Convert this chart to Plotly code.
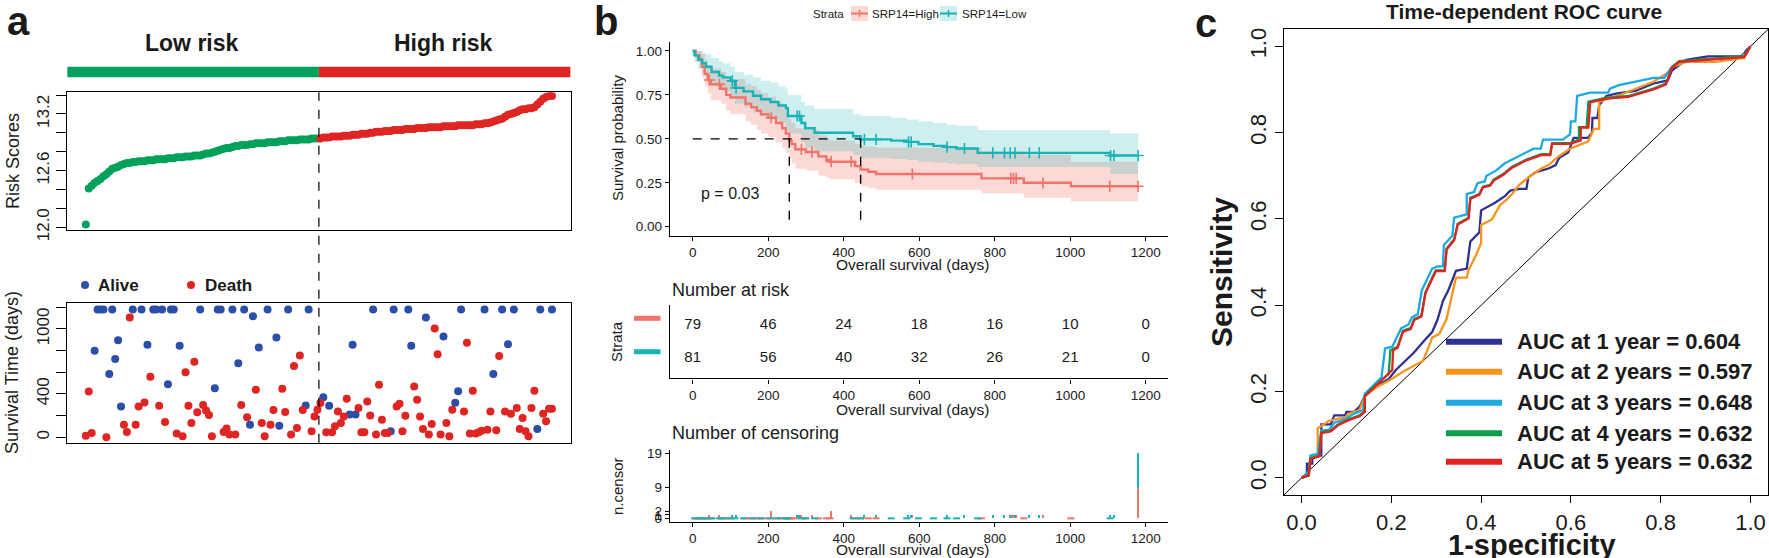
import plotly.graph_objects as go

W, H = 1769, 558
def px(x): return x / W
def py(y): return 1 - y / H

FONT = "Liberation Sans, Arial, sans-serif"
BLACK = "#1a1a1a"

# ---------------- Panel a data ----------------
risk_scores = [
    12.03, 12.41, 12.44, 12.47, 12.49, 12.51, 12.54, 12.56, 12.59, 12.62,
    12.63, 12.64, 12.66, 12.67, 12.68, 12.68, 12.69, 12.69, 12.70, 12.70,
    12.70, 12.71, 12.71, 12.71, 12.72, 12.72, 12.72, 12.72, 12.73, 12.73,
    12.73, 12.74, 12.74, 12.74, 12.75, 12.75, 12.75, 12.76, 12.76, 12.76,
    12.77, 12.78, 12.78, 12.79, 12.80, 12.81, 12.82, 12.83, 12.84, 12.84,
    12.85, 12.86, 12.86, 12.87, 12.87, 12.87, 12.88, 12.88, 12.89, 12.89,
    12.89, 12.89, 12.90, 12.90, 12.90, 12.90, 12.91, 12.91, 12.91, 12.92,
    12.92, 12.92, 12.92, 12.93, 12.93, 12.93, 12.93, 12.94, 12.94, 12.94,
    12.94, 12.95, 12.95, 12.95, 12.96, 12.96, 12.96, 12.96, 12.97, 12.97,
    12.97, 12.98, 12.98, 12.98, 12.99, 12.99, 12.99, 13.00, 13.00, 13.01,
    13.01, 13.01, 13.02, 13.02, 13.02, 13.03, 13.03, 13.03, 13.03, 13.04,
    13.04, 13.04, 13.04, 13.05, 13.05, 13.05, 13.05, 13.06, 13.06, 13.06,
    13.06, 13.06, 13.07, 13.07, 13.07, 13.07, 13.07, 13.08, 13.08, 13.08,
    13.08, 13.08, 13.08, 13.09, 13.09, 13.09, 13.10, 13.10, 13.11, 13.12,
    13.13, 13.14, 13.15, 13.17, 13.19, 13.20, 13.21, 13.22, 13.24, 13.25,
    13.25, 13.26, 13.26, 13.27, 13.30, 13.33, 13.36, 13.38, 13.39, 13.39,
]
n_low = 80  # patients ranked 1..80 are low risk

alive_rank = [4, 5, 6, 7, 9, 10, 11, 12, 13, 17, 20, 22, 24, 25, 27, 29, 30, 31, 33, 40,
              45, 46, 47, 51, 53, 55, 57, 58, 60, 63, 66, 67, 70, 76, 77,
              82, 84, 91, 92, 93, 99, 105, 106, 111, 112, 117, 123, 127, 128, 129,
              137, 140, 143, 145, 147, 155, 156, 160]
alive_days = [800, 1180, 1180, 1180, 585, 1180, 723, 897, 285, 1180, 1180, 854, 1180, 1180, 1180, 490, 1180, 1180, 845, 1180,
              453, 1180, 1180, 1180, 683, 1180, 116, 1118, 830, 1180, 922, 107, 1180, 294, 1180,
              370, 291, 211, 854, 211, 1180, 55, 1180, 1180, 845, 1106, 931, 318, 426, 1180,
              1180, 585, 1180, 860, 1180, 77, 1180, 1180]
death_rank = [1, 2, 3, 8, 14, 15, 16, 18, 19, 21, 23, 26, 28, 32, 34, 35, 36, 37, 38, 39,
              41, 42, 43, 44, 48, 49, 50, 52, 54, 56, 59, 61, 62, 64, 65, 68, 69, 71, 72, 73,
              74, 75, 78, 79, 80,
              81, 83, 85, 86, 87, 88, 89, 90, 94, 95, 96, 97, 98, 100, 101, 102, 103, 104, 107, 108,
              109, 110, 113, 114, 115, 116, 118, 119, 120, 121, 122, 124, 125, 126, 130, 131, 132, 133, 134, 135,
              136, 138, 139, 141, 142, 144, 146, 148, 149, 150, 151, 152, 153, 154, 157, 158, 159, 160]
death_days = [15, 423, 40, 0, 116, 49, 1106, 116, 285, 322, 560, 291, 141, 34, 9, 600, 291, 132, 698, 230,
              297, 248, 205, 9, 49, 80, 25, 25, 297, 184, 438, 132, 9, 116, 251, 447, 233, 25, 659, 86,
              754, 251, 55, 193, 254,
              316, 46, 46, 101, 239, 132, 193, 355, 270, 46, 46, 331, 202, 25, 484, 162, 40, 40, 285, 309,
              55, 199, 469, 346, 193, 77, 25, 123, 1005, 766, 25, 132, 9, 254, 239, 873, 34, 429, 34, 46,
              61, 70, 239, 64, 751, 239, 217, 270, 77, 178, 55, 9, 270, 429, 217, 147, 263, 263]

risk_ticks = [12.0, 12.2, 12.4, 12.6, 12.8, 13.0, 13.2, 13.4]
risk_ticktext = ["12.0", "", "", "12.6", "", "", "13.2", ""]
surv_ticks = [0, 200, 400, 600, 800, 1000, 1200]
surv_ticktext = ["0", "", "400", "", "", "1000", ""]

# ---------------- Panel b data ----------------
high_t = [0, 8, 18, 25, 32, 40, 48, 75, 89, 100, 140, 155, 170, 181, 200, 221, 237, 247, 256, 262,
          272, 300, 333, 354, 364, 430, 445, 465, 486, 765, 877, 1002]
high_s = [1.0, .975, .95, .91, .87, .835, .81, .785, .75, .735, .70, .68, .66, .64, .62, .59, .56, .53, .49, .47,
          .44, .425, .40, .38, .37, .345, .325, .313, .30, .275, .25, .23]
high_lo = [1.0, .94, .90, .85, .80, .76, .72, .70, .66, .64, .60, .58, .55, .53, .51, .48, .45, .42, .39, .36,
           .33, .32, .29, .28, .27, .25, .23, .22, .21, .19, .165, .145]
high_up = [1.0, 1.0, 1.0, .98, .95, .92, .90, .88, .85, .84, .81, .80, .78, .76, .74, .71, .68, .65, .61, .59,
           .56, .55, .52, .50, .49, .47, .46, .455, .45, .43, .41, .37]
low_t = [0, 5, 15, 25, 35, 50, 70, 80, 100, 112, 135, 160, 181, 206, 227, 247, 252, 288, 298, 323,
         425, 445, 526, 567, 598, 638, 674, 699, 755, 1106]
low_s = [1.0, .975, .95, .93, .91, .88, .86, .85, .83, .79, .77, .745, .725, .71, .69, .675, .63, .59, .56, .535,
         .515, .497, .49, .483, .47, .46, .453, .445, .42, .405]
low_lo = [1.0, .94, .90, .87, .85, .81, .78, .77, .74, .70, .68, .65, .63, .61, .59, .57, .53, .48, .45, .43,
          .41, .39, .385, .38, .37, .365, .36, .355, .34, .30]
low_up = [1.0, 1.0, 1.0, .99, .98, .96, .94, .93, .91, .88, .865, .85, .83, .82, .80, .79, .75, .71, .69, .67,
          .64, .63, .62, .61, .60, .59, .58, .575, .55, .53]

high_cens_t = [44, 71, 208, 288, 316, 367, 420, 582, 843, 850, 857, 928, 1105, 1180]
high_cens_n = [1, 1, 2, 1, 1, 2, 1, 1, 1, 1, 1, 1, 1, 9]
low_cens_t = [105, 115, 277, 283, 455, 486, 572, 579, 674, 720, 795, 826, 841, 854, 892, 918, 1107, 1116, 1180]
low_cens_n = [1, 1, 1, 1, 1, 1, 1, 1, 1, 1, 1, 1, 1, 1, 1, 1, 1, 1, 10]

risk_times = [0, 200, 400, 600, 800, 1000, 1200]
risk_high = [79, 46, 24, 18, 16, 10, 0]
risk_low = [81, 56, 40, 32, 26, 21, 0]
p_text = "p = 0.03"
km_ticks = [0, 200, 400, 600, 800, 1000, 1200]
surv_prob_ticks = [0, 0.25, 0.5, 0.75, 1.0]
surv_prob_text = ["0.00", "0.25", "0.50", "0.75", "1.00"]
ncensor_ticks = [0, 1, 2, 9, 19]

# ---------------- Panel c data ----------------
roc_fpr_1 = [0, .012, .012, .024, .024, .044, .044, .065, .073, .097, .1, .117, .13, .141, .162, .194, .21, .25, .275, .291,
             .303, .315, .327, .344, .368, .376, .396, .4, .43, .453, .465, .485, .501, .505, .521, .55, .566, .574, .594, .606,
             .638, .647, .648, .659, .663, .679, .703, .744, .784, .816, .825, .857, .905, .986, .99, 1]
roc_tpr_1 = [0, .01, .033, .033, .048, .052, .124, .124, .145, .145, .153, .153, .166, .19, .21, .229, .25, .29, .32, .338,
             .367, .41, .435, .48, .485, .548, .569, .62, .637, .653, .666, .67, .67, .696, .708, .717, .725, .742, .754, .788,
             .788, .8, .834, .834, .864, .885, .891, .897, .914, .921, .944, .969, .977, .977, .99, 1]
roc_fpr_2 = [0, .016, .02, .036, .036, .06, .077, .097, .105, .129, .141, .17, .194, .226, .27, .279, .291, .307, .323, .331,
             .344, .368, .372, .388, .4, .4, .424, .442, .457, .469, .485, .505, .534, .55, .574, .598, .618, .639, .651, .663,
             .663, .703, .784, .816, .825, .857, .922, .986, 1]
roc_tpr_2 = [0, .006, .046, .052, .115, .132, .136, .14, .149, .157, .19, .212, .225, .246, .271, .292, .325, .334, .368, .405,
             .464, .464, .481, .515, .544, .586, .599, .632, .645, .658, .679, .696, .717, .725, .746, .763, .771, .78, .809, .809,
             .872, .885, .918, .939, .952, .964, .964, .973, 1]
roc_fpr_3 = [0, .016, .02, .036, .044, .061, .073, .097, .117, .137, .141, .162, .178, .186, .202, .222, .238, .246, .259, .268,
             .279, .291, .303, .315, .317, .336, .34, .368, .368, .384, .392, .408, .412, .433, .453, .477, .501, .517, .533, .538,
             .582, .598, .6, .61, .614, .643, .683, .687, .707, .784, .808, .825, .841, .905, .986, 1]
roc_tpr_3 = [0, .014, .052, .056, .111, .111, .128, .136, .149, .157, .195, .216, .233, .3, .304, .347, .355, .372, .38, .435,
             .46, .485, .49, .49, .54, .561, .603, .611, .658, .662, .683, .687, .7, .712, .729, .742, .754, .763, .763, .784,
             .784, .796, .826, .826, .885, .893, .893, .902, .91, .927, .927, .952, .964, .969, .977, 1]
roc_fpr_4 = [0, .016, .02, .04, .044, .065, .081, .105, .129, .141, .141, .162, .194, .198, .214, .226, .243, .251, .267, .276,
             .291, .299, .319, .323, .34, .348, .372, .376, .396, .404, .42, .428, .449, .469, .501, .534, .554, .558, .598, .618,
             .618, .635, .639, .679, .728, .784, .812, .825, .841, .922, .986, 1]
roc_tpr_4 = [0, .006, .046, .052, .106, .11, .124, .136, .145, .155, .191, .212, .241, .296, .304, .341, .347, .368, .376, .43,
             .464, .481, .481, .531, .553, .589, .603, .649, .658, .675, .679, .691, .704, .721, .738, .75, .75, .776, .776, .784,
             .813, .813, .872, .881, .885, .902, .914, .952, .966, .973, .977, 1]
roc_fpr_5 = [0, .016, .02, .04, .044, .065, .081, .105, .129, .141, .141, .162, .19, .202, .204, .214, .226, .243, .251, .267,
             .276, .291, .299, .319, .323, .34, .348, .372, .376, .396, .404, .42, .428, .449, .469, .501, .534, .554, .558, .598,
             .622, .622, .639, .643, .679, .728, .784, .812, .825, .841, .922, .986, 1]
roc_tpr_5 = [0, .006, .044, .05, .104, .108, .122, .134, .143, .153, .189, .21, .24, .25, .296, .302, .339, .345, .366, .374,
             .428, .462, .479, .479, .529, .551, .587, .601, .647, .656, .673, .677, .689, .702, .719, .736, .748, .748, .774, .774,
             .782, .812, .812, .87, .879, .883, .9, .912, .95, .964, .97, .975, 1]
roc_labels = ["AUC at 1 year = 0.604", "AUC at 2 years = 0.597", "AUC at 3 years = 0.648",
              "AUC at 4 years = 0.632", "AUC at 5 years = 0.632"]
roc_ticks = [0, 0.2, 0.4, 0.6, 0.8, 1.0]
roc_ticktext = ["0.0", "0.2", "0.4", "0.6", "0.8", "1.0"]

# ---------------- colours ----------------
GREEN_A = "#00A15A"
RED_A = "#DF2522"
BLUE_A = "#2B4FA8"
KM_RED = "#F0746A"
KM_TEAL = "#18B3B6"
KM_RED_FILL = "rgba(245,120,105,0.28)"
KM_TEAL_FILL = "rgba(30,180,185,0.22)"
ROC_COLORS = ["#2E3192", "#F7941D", "#1CA9E1", "#0C9D4F", "#E42320"]

fig = go.Figure()

# ---- Panel a: risk scores ----
ranks = list(range(1, len(risk_scores) + 1))
fig.add_trace(go.Scatter(x=ranks[:n_low], y=risk_scores[:n_low], mode="markers",
                         marker=dict(color=GREEN_A, size=8), xaxis="x", yaxis="y", showlegend=False))
fig.add_trace(go.Scatter(x=ranks[n_low:], y=risk_scores[n_low:], mode="markers",
                         marker=dict(color=RED_A, size=8), xaxis="x", yaxis="y", showlegend=False))
# ---- Panel a: survival status ----
fig.add_trace(go.Scatter(x=alive_rank, y=alive_days, mode="markers",
                         marker=dict(color=BLUE_A, size=8), xaxis="x2", yaxis="y2", showlegend=False))
fig.add_trace(go.Scatter(x=death_rank, y=death_days, mode="markers",
                         marker=dict(color=RED_A, size=8), xaxis="x2", yaxis="y2", showlegend=False))

# ---- Panel b: KM ----
t_end = max(high_cens_t + low_cens_t)

def ext(ts, vals):
    return ts + [t_end], vals + [vals[-1]]

def surv_at(t, ts, ss):
    idx = max(i for i, tt in enumerate(ts) if tt <= t)
    return ss[idx]

for ts, lo, up, fillc in [(high_t, high_lo, high_up, KM_RED_FILL), (low_t, low_lo, low_up, KM_TEAL_FILL)]:
    xu, yu = ext(ts, up)
    xl, yl = ext(ts, lo)
    fig.add_trace(go.Scatter(x=xu, y=yu, mode="lines", line=dict(width=0, shape="hv"),
                             xaxis="x3", yaxis="y3", showlegend=False, hoverinfo="skip"))
    fig.add_trace(go.Scatter(x=xl, y=yl, mode="lines", line=dict(width=0, shape="hv"), fill="tonexty",
                             fillcolor=fillc, xaxis="x3", yaxis="y3", showlegend=False, hoverinfo="skip"))

for ts, ss, ct, col in [(high_t, high_s, high_cens_t, KM_RED), (low_t, low_s, low_cens_t, KM_TEAL)]:
    xs, ys = ext(ts, ss)
    fig.add_trace(go.Scatter(x=xs, y=ys, mode="lines", line=dict(color=col, width=2.4, shape="hv"),
                             xaxis="x3", yaxis="y3", showlegend=False))
    fig.add_trace(go.Scatter(x=ct, y=[surv_at(t, ts, ss) for t in ct], mode="markers",
                             marker=dict(symbol="cross-thin", size=8, color=col, line=dict(color=col, width=1.6)),
                             xaxis="x3", yaxis="y3", showlegend=False))

def median_time(ts, ss):
    for t, s in zip(ts, ss):
        if s <= 0.5:
            return t
    return None

med_h = median_time(high_t, high_s)
med_l = median_time(low_t, low_s)
fig.add_trace(go.Scatter(x=[0, max(med_h, med_l)], y=[0.5, 0.5], mode="lines",
                         line=dict(color="black", width=1.4, dash="dash"), xaxis="x3", yaxis="y3", showlegend=False))
for m in (med_h, med_l):
    fig.add_trace(go.Scatter(x=[m, m], y=[0.5, 0], mode="lines",
                             line=dict(color="black", width=1.4, dash="dash"), xaxis="x3", yaxis="y3", showlegend=False))

# ---- Panel b: number at risk ----
fig.add_trace(go.Scatter(x=risk_times, y=[2] * len(risk_times), mode="text", text=[str(v) for v in risk_high],
                         textfont=dict(size=15, color=BLACK, family=FONT), xaxis="x4", yaxis="y4", showlegend=False))
fig.add_trace(go.Scatter(x=risk_times, y=[1] * len(risk_times), mode="text", text=[str(v) for v in risk_low],
                         textfont=dict(size=15, color=BLACK, family=FONT), xaxis="x4", yaxis="y4", showlegend=False))

# ---- Panel b: number of censoring ----
fig.add_trace(go.Bar(x=high_cens_t, y=high_cens_n, width=4, marker=dict(color=KM_RED, line=dict(width=0)),
                     xaxis="x5", yaxis="y5", showlegend=False))
fig.add_trace(go.Bar(x=low_cens_t, y=low_cens_n, width=4, marker=dict(color=KM_TEAL, line=dict(width=0)),
                     xaxis="x5", yaxis="y5", showlegend=False))
for ts, col in [(high_t, KM_RED), (low_t, KM_TEAL)]:
    fig.add_trace(go.Scatter(x=ts[1:], y=[0] * (len(ts) - 1), mode="markers",
                             marker=dict(symbol="line-ew-open", size=5, color=col, line=dict(color=col, width=2)),
                             xaxis="x5", yaxis="y5", showlegend=False, cliponaxis=False))

# ---- Panel c: ROC ----
fig.add_trace(go.Scatter(x=[-0.04, 1.04], y=[-0.04, 1.04], mode="lines", line=dict(color="black", width=1),
                         xaxis="x6", yaxis="y6", showlegend=False))
roc_sets = [(roc_fpr_1, roc_tpr_1), (roc_fpr_2, roc_tpr_2), (roc_fpr_3, roc_tpr_3),
            (roc_fpr_4, roc_tpr_4), (roc_fpr_5, roc_tpr_5)]
for (fx, ty), col in zip(roc_sets, ROC_COLORS):
    fig.add_trace(go.Scatter(x=fx, y=ty, mode="lines", line=dict(color=col, width=2.3),
                             xaxis="x6", yaxis="y6", showlegend=False))

# ---------------- axes ----------------
box = dict(showline=True, mirror=True, linecolor="black", linewidth=1.2, showgrid=False, zeroline=False,
           automargin=False)
gg = dict(showline=True, mirror=False, linecolor="black", linewidth=1.4, showgrid=False, zeroline=False,
          ticks="outside", ticklen=4, tickcolor="black", tickwidth=1.2, automargin=False)
tickf = dict(size=17, color=BLACK, family=FONT)
ggtick = dict(size=13.5, color=BLACK, family=FONT)

xa_dom = [px(67.2), px(570.6)]
xb_dom = [px(670), px(1168.3)]
fig.update_layout(
    template="none",
    xaxis=dict(domain=xa_dom, range=[-5.36, 166.36], anchor="y", showticklabels=False, ticks="", **box),
    yaxis=dict(domain=[py(230), py(92.3)], range=[11.971, 13.429], anchor="x", tickvals=risk_ticks,
               ticktext=risk_ticktext, tickangle=-90, ticks="outside", ticklen=10, tickcolor="black",
               tickfont=tickf, **box),
    xaxis2=dict(domain=xa_dom, range=[-5.36, 166.36], anchor="y2", showticklabels=False, ticks="", **box),
    yaxis2=dict(domain=[py(442.7), py(303.3)], range=[-50, 1237], anchor="x2", tickvals=surv_ticks,
                ticktext=surv_ticktext, tickangle=-90, ticks="outside", ticklen=10, tickcolor="black",
                tickfont=tickf, **box),
    xaxis3=dict(domain=xb_dom, range=[-60, 1260], anchor="y3", tickvals=km_ticks, tickfont=ggtick, **gg),
    yaxis3=dict(domain=[py(235.5), py(42.2)], range=[-0.05, 1.05], anchor="x3", tickvals=surv_prob_ticks,
                ticktext=surv_prob_text, tickfont=ggtick, **gg),
    xaxis4=dict(domain=xb_dom, range=[-60, 1260], anchor="y4", tickvals=km_ticks, tickfont=ggtick, **gg),
    yaxis4=dict(domain=[py(378.3), py(305)], range=[0.4, 2.6], anchor="x4", showticklabels=False,
                showline=True, linecolor="black", linewidth=1.4, ticks="", showgrid=False, zeroline=False,
                automargin=False),
    xaxis5=dict(domain=xb_dom, range=[-60, 1260], anchor="y5", tickvals=km_ticks, tickfont=ggtick, **gg),
    yaxis5=dict(domain=[py(521.6), py(450)], range=[-0.95, 19.95], anchor="x5", tickvals=ncensor_ticks,
                tickfont=ggtick, **gg),
    xaxis6=dict(domain=[px(1283.6), px(1768.4)], range=[-0.04, 1.04], anchor="y6", tickvals=roc_ticks,
                ticktext=roc_ticktext, ticks="outside", ticklen=7, tickcolor="black",
                tickfont=dict(size=22, color=BLACK, family=FONT), **box),
    yaxis6=dict(domain=[py(495.2), py(29.1)], range=[-0.04, 1.04], anchor="x6", tickvals=roc_ticks,
                ticktext=roc_ticktext, tickangle=-90, ticks="outside", ticklen=8, tickcolor="black",
                tickfont=dict(size=22, color=BLACK, family=FONT), **box),
    barmode="stack",
    width=W, height=H, margin=dict(l=0, r=0, t=0, b=0, pad=0),
    paper_bgcolor="white", plot_bgcolor="white",
    font=dict(family=FONT, color=BLACK),
    showlegend=False,
)

# ---------------- shapes ----------------
shapes = []
shapes.append(dict(type="rect", xref="x", yref="paper", x0=-5.36, x1=n_low + 0.5, y0=py(77.3), y1=py(66.7),
                   fillcolor=GREEN_A, line=dict(width=0)))
shapes.append(dict(type="rect", xref="x", yref="paper", x0=n_low + 0.5, x1=166.36, y0=py(77.3), y1=py(66.7),
                   fillcolor=RED_A, line=dict(width=0)))
shapes.append(dict(type="line", xref="x", yref="paper", x0=n_low + 0.5, x1=n_low + 0.5, y0=py(442.7), y1=py(92.3),
                   line=dict(color="black", width=1.2, dash="dash")))
# Alive / Death legend dots
for cx, col in [(85, BLUE_A), (191, RED_A)]:
    shapes.append(dict(type="circle", xref="paper", yref="paper", x0=px(cx - 4), x1=px(cx + 4),
                       y0=py(289), y1=py(281), fillcolor=col, line=dict(width=0)))
# Strata legend (KM)
for x0, x1, col, fillc in [(851, 868, KM_RED, KM_RED_FILL), (940, 957, KM_TEAL, KM_TEAL_FILL)]:
    shapes.append(dict(type="rect", xref="paper", yref="paper", x0=px(x0), x1=px(x1), y0=py(21), y1=py(6),
                       fillcolor=fillc, line=dict(width=0)))
    shapes.append(dict(type="line", xref="paper", yref="paper", x0=px(x0), x1=px(x1), y0=py(13.5), y1=py(13.5),
                       line=dict(color=col, width=2)))
    xm = (x0 + x1) / 2
    shapes.append(dict(type="line", xref="paper", yref="paper", x0=px(xm), x1=px(xm), y0=py(17), y1=py(10),
                       line=dict(color=col, width=1.5)))
# Strata colour keys in risk table
for yc, col in [(318.3, KM_RED), (351.7, KM_TEAL)]:
    shapes.append(dict(type="rect", xref="paper", yref="paper", x0=px(634), x1=px(660.5), y0=py(yc + 2.5),
                       y1=py(yc - 2.5), fillcolor=col, line=dict(width=0)))
# ROC legend lines
roc_leg_y = [341.7, 371.7, 402.7, 433.3, 461.7]
for yy, col in zip(roc_leg_y, ROC_COLORS):
    shapes.append(dict(type="line", xref="paper", yref="paper", x0=px(1446), x1=px(1502), y0=py(yy), y1=py(yy),
                       line=dict(color=col, width=6)))
fig.update_layout(shapes=shapes)

# ---------------- annotations ----------------
ann = []
def A(text, x, y, size, bold=False, angle=0, xanchor="center", yanchor="middle", color=BLACK):
    ann.append(dict(text=f"<b>{text}</b>" if bold else text, x=px(x), y=py(y), xref="paper", yref="paper",
                    showarrow=False, font=dict(size=size, family=FONT, color=color), textangle=angle,
                    xanchor=xanchor, yanchor=yanchor))

A("a", 18, 21, 40, bold=True)
A("b", 606, 21, 40, bold=True)
A("c", 1206, 23, 40, bold=True)
A("Low risk", 192, 43, 23, bold=True)
A("High risk", 444, 43, 23, bold=True)
A("Risk Scores", 13, 161, 18, angle=-90)
A("Survival Time (days)", 12, 373, 18, angle=-90)
A("Alive", 96, 285, 17, bold=True, xanchor="left")
A("Death", 203, 285, 17, bold=True, xanchor="left")

A("Strata", 828, 14, 11.5)
A("SRP14=High", 870, 14, 11.5, xanchor="left")
A("SRP14=Low", 960, 14, 11.5, xanchor="left")
A("Survival probability", 617, 138, 15, angle=-90)
A("Overall survival (days)", 912, 264, 15.5)
A(p_text, 730, 193, 16)
A("Number at risk", 670, 290, 18, xanchor="left")
A("Strata", 616, 342, 15, angle=-90)
A("Overall survival (days)", 912, 409, 15.5)
A("Number of censoring", 670, 433, 18, xanchor="left")
A("n.censor", 617, 486, 15, angle=-90)
A("Overall survival (days)", 912, 549, 15.5)

A("Time-dependent ROC curve", 1524, 11, 21, bold=True)
A("Sensitivity", 1222, 272, 30, bold=True, angle=-90)
A("1-specificity", 1532, 545, 29, bold=True)
for yy, lab in zip(roc_leg_y, roc_labels):
    A(lab, 1515, yy, 22, bold=True, xanchor="left")
fig.update_layout(annotations=ann)

fig.write_html("out.html", include_plotlyjs=True, config={"displayModeBar": False},
               post_script="document.body.style.margin='0';document.body.style.overflow='hidden';")
